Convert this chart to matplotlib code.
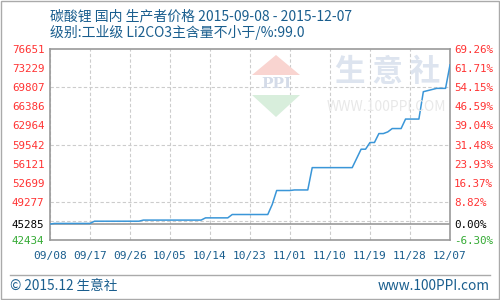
import numpy as np
import pandas as pd
import matplotlib
matplotlib.use('Agg')
import matplotlib.pyplot as plt
from matplotlib.patches import Polygon

plt.rcParams['font.family'] = ['Noto Sans CJK SC', 'DejaVu Sans']

title1 = '碳酸锂 国内 生产者价格 2015-09-08 - 2015-12-07'
title2 = '级别:工业级 Li2CO3主含量不小于/%:99.0'
footer_left = '© 2015.12 生意社'
footer_right = 'www.100PPI.com'

# price points (turning points)
dates = ['2015-09-08', '2015-09-09', '2015-09-17', '2015-09-18', '2015-09-28',
         '2015-09-29', '2015-10-12', '2015-10-13', '2015-10-18', '2015-10-19',
         '2015-10-27', '2015-10-28', '2015-10-29', '2015-11-01', '2015-11-02',
         '2015-11-05', '2015-11-06', '2015-11-15', '2015-11-17', '2015-11-18',
         '2015-11-19', '2015-11-20', '2015-11-21', '2015-11-22', '2015-11-23',
         '2015-11-24', '2015-11-26', '2015-11-27', '2015-11-30', '2015-12-01',
         '2015-12-03', '2015-12-04', '2015-12-06', '2015-12-07']
prices = [45285, 45400, 45400, 45800, 45800,
          46000, 46000, 46400, 46400, 47000,
          47000, 48800, 51300, 51300, 51400,
          51400, 55400, 55400, 58700, 58700,
          59900, 59900, 61500, 61500, 61800,
          62400, 62400, 64100, 64100, 69000,
          69400, 69600, 69600, 73800]

base = 45285
y_min, y_max = 42434, 76651
left_labels = ['42434', '45285', '49277', '52699', '56121', '59542',
               '62964', '66386', '69807', '73229', '76651']
right_labels = ['-6.30%', '0.00%', '8.82%', '16.37%', '23.93%', '31.48%',
                '39.04%', '46.59%', '54.15%', '61.71%', '69.26%']
x_ticks = ['2015-09-08', '2015-09-17', '2015-09-26', '2015-10-05', '2015-10-14',
           '2015-10-23', '2015-11-01', '2015-11-10', '2015-11-19', '2015-11-28',
           '2015-12-07']

RED = '#ff3333'
GREEN = '#33aa33'
BLUE_TXT = '#1a5e8e'
FRAME = '#999999'
W, H = 500.0, 300.0

dt = pd.to_datetime(dates)
xt = pd.to_datetime(x_ticks)

fig = plt.figure(figsize=(5, 3), dpi=100)
ax = fig.add_axes([50 / W, 60 / H, 400 / W, 191 / H])

# watermark
fig.text(388 / W, 1 - 72 / H, '生 意 社', fontsize=22, fontweight='bold', color='#dde4ef',
         ha='center', va='center', zorder=0)
fig.text(386 / W, 1 - 107 / H, 'WWW.100PPI.COM', fontsize=10, color='#e8e8e8',
         ha='center', va='center', zorder=0)
tri_up = [(252 / W, 1 - 75 / H), (300 / W, 1 - 75 / H), (276 / W, 1 - 55 / H)]
tri_dn = [(252 / W, 1 - 95 / H), (300 / W, 1 - 95 / H), (276 / W, 1 - 117 / H)]
fig.patches.append(Polygon(tri_up, closed=True, transform=fig.transFigure,
                           facecolor='#f9d4d0', edgecolor='none', zorder=0))
fig.patches.append(Polygon(tri_dn, closed=True, transform=fig.transFigure,
                           facecolor='#d8eedc', edgecolor='none', zorder=0))
fig.text(276 / W, 1 - 84 / H, 'PPI', fontsize=11, fontweight='bold', color='#d4dbe8',
         ha='center', va='center', family='DejaVu Serif', zorder=0)

ax.set_facecolor('none')
ax.plot(dt, prices, color='#3a96d8', lw=1.1, zorder=3)
ax.axhline(base, color=FRAME, lw=1.2, zorder=2)

ax.set_xlim(xt[0], xt[-1])
ax.set_ylim(y_min, y_max)

grid_vals = np.linspace(y_min, y_max, 11)[1:-1]
ax.set_yticks(grid_vals, minor=True)
ax.set_xticks(xt)
ax.set_xticklabels([d.strftime('%m/%d') for d in xt])
label_vals = [float(v) for v in left_labels]
ax.set_yticks(label_vals)
ax.set_yticklabels(left_labels)

ax.grid(which='minor', axis='y', color='#cccccc', ls=(0, (3, 2)), lw=0.8)
ax.grid(which='major', axis='x', color='#cccccc', ls=(0, (3, 2)), lw=0.8)
ax.tick_params(which='both', length=0)
ax.tick_params(axis='x', pad=8, labelsize=8, labelcolor=BLUE_TXT)
ax.tick_params(axis='y', pad=4, labelsize=7.8)
for lab in ax.get_xticklabels():
    lab.set_family('DejaVu Sans Mono')

def color_for(v):
    if v > base:
        return RED
    if v < base:
        return GREEN
    return 'black'

for lab, v in zip(ax.get_yticklabels(), label_vals):
    lab.set_color(color_for(v))
    lab.set_family('DejaVu Sans Mono')

for sp in ax.spines.values():
    sp.set_color(FRAME)
    sp.set_linewidth(1.2)

ax2 = ax.twinx()
ax2.set_ylim(y_min, y_max)
ax2.set_yticks(label_vals)
ax2.set_yticklabels(right_labels)
ax2.tick_params(length=0, pad=3, labelsize=7.8)
for lab, v in zip(ax2.get_yticklabels(), label_vals):
    lab.set_color(color_for(v))
    lab.set_family('DejaVu Sans Mono')
for sp in ax2.spines.values():
    sp.set_visible(False)

fig.text(50 / W, 1 - 16 / H, title1, fontsize=10, color=BLUE_TXT, va='center')
fig.text(50 / W, 1 - 33 / H, title2, fontsize=10, color=BLUE_TXT, va='center')

fig.add_artist(plt.Line2D([10 / W, 490 / W], [1 - 275 / H, 1 - 275 / H],
                          transform=fig.transFigure, color='#aaaaaa', lw=1))
fig.text(10 / W, 1 - 286 / H, footer_left, fontsize=9.8, color=BLUE_TXT, va='center')
fig.text(490 / W, 1 - 286 / H, footer_right, fontsize=9.8, color=BLUE_TXT,
         va='center', ha='right')
fig.add_artist(plt.Rectangle((0.001, 0.002), 0.997, 0.995, transform=fig.transFigure,
                             fill=False, edgecolor='#aaaaaa', lw=1))

fig.savefig('out.png', dpi=100)
